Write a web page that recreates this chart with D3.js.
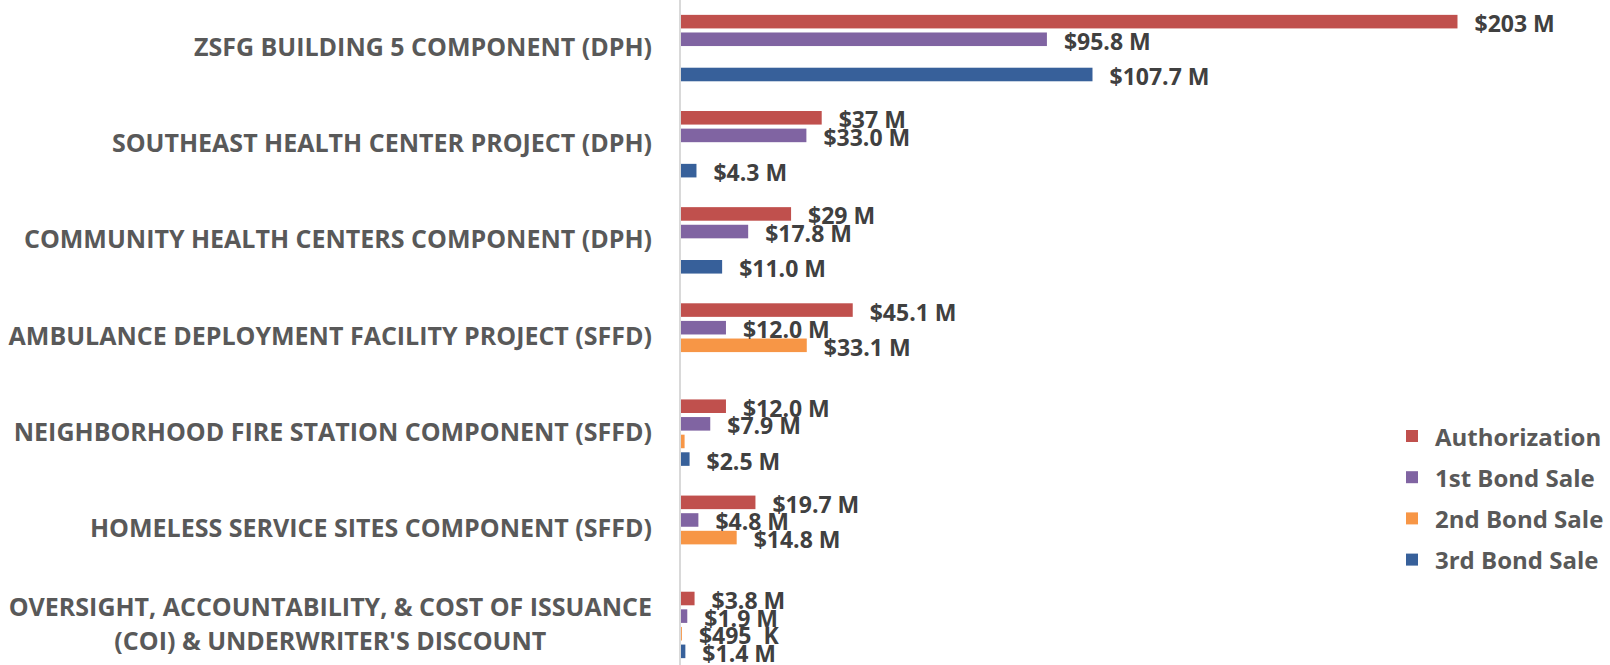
<!DOCTYPE html>
<html>
<head>
<meta charset="utf-8">
<script src="https://cdn.jsdelivr.net/npm/d3@7"></script>
<style>
  html, body { margin: 0; padding: 0; background: #fff; }
  svg text { font-family: "Open Sans", Calibri, sans-serif; font-weight: bold; }
</style>
</head>
<body>
<div id="chart"></div>
<script>
// categories, top to bottom
const categories = [
  "ZSFG BUILDING 5 COMPONENT (DPH)",
  "SOUTHEAST HEALTH CENTER PROJECT (DPH)",
  "COMMUNITY HEALTH CENTERS COMPONENT (DPH)",
  "AMBULANCE DEPLOYMENT FACILITY PROJECT (SFFD)",
  "NEIGHBORHOOD FIRE STATION COMPONENT (SFFD)",
  "HOMELESS SERVICE SITES COMPONENT (SFFD)",
  "OVERSIGHT, ACCOUNTABILITY, & COST OF ISSUANCE\n(COI) & UNDERWRITER'S DISCOUNT"
];
const seriesNames = ["Authorization", "1st Bond Sale", "2nd Bond Sale", "3rd Bond Sale"];

// values in $ millions
const authorization = [203, 37, 29, 45.1, 12.0, 19.7, 3.8];
const bondSale1 = [95.8, 33.0, 17.8, 12.0, 7.9, 4.8, 1.9];
const bondSale2 = [null, null, null, 33.1, 1.2, 14.8, 0.495];
const bondSale3 = [107.7, 4.3, 11.0, null, 2.5, null, 1.4];

// data label texts
const authorizationLabels = ["$203 M", "$37 M", "$29 M", "$45.1 M", "$12.0 M", "$19.7 M", "$3.8 M"];
const bondSale1Labels = ["$95.8 M", "$33.0 M", "$17.8 M", "$12.0 M", "$7.9 M", "$4.8 M", "$1.9 M"];
const bondSale2Labels = [null, null, null, "$33.1 M", null, "$14.8 M", "$495  K"];
const bondSale3Labels = ["$107.7 M", "$4.3 M", "$11.0 M", null, "$2.5 M", null, "$1.4 M"];

const colors = ["#C0504D", "#8064A2", "#F79646", "#37609A"];

const width = 1610, height = 665;
const axisX = 680;

const values = [authorization, bondSale1, bondSale2, bondSale3];
const labels = [authorizationLabels, bondSale1Labels, bondSale2Labels, bondSale3Labels];

const rows = [];
categories.forEach((c, i) => {
  seriesNames.forEach((s, j) => {
    rows.push({cat: c, series: s, idx: j, value: values[j][i], label: labels[j][i]});
  });
});

const svg = d3.select("#chart").append("svg")
    .attr("width", width)
    .attr("height", height);

// scales
const x = d3.scaleLinear()
    .domain([0, 220])
    .range([axisX, axisX + 220 * 3.83]);

const y0 = d3.scaleBand()
    .domain(categories)
    .range([0, 673])
    .paddingInner(0.267)
    .paddingOuter(0.1335);

const y1 = d3.scaleBand()
    .domain(seriesNames)
    .range([0, y0.bandwidth()])
    .paddingInner(0.23)
    .paddingOuter(0.115);

// bars
svg.selectAll(".bar")
   .data(rows.filter(d => d.value != null))
   .enter().append("rect")
   .attr("class", "bar")
   .attr("x", x(0))
   .attr("y", d => y0(d.cat) + y1(d.series))
   .attr("width", d => x(d.value) - x(0))
   .attr("height", y1.bandwidth())
   .attr("fill", d => colors[d.idx]);

// data labels
svg.selectAll(".dlabel")
   .data(rows.filter(d => d.label != null))
   .enter().append("text")
   .attr("class", "dlabel")
   .attr("x", d => x(d.value || 0) + 17)
   .attr("y", d => y0(d.cat) + y1(d.series) + y1.bandwidth() / 2 + 1.5)
   .attr("dominant-baseline", "central")
   .style("font-size", "23px")
   .style("fill", "#404040")
   .style("white-space", "pre")
   .text(d => d.label);

// vertical axis line
svg.append("line")
   .attr("x1", axisX).attr("x2", axisX)
   .attr("y1", 0).attr("y2", height)
   .attr("stroke", "#D9D9D9")
   .attr("stroke-width", 2);

// category labels
const catG = svg.selectAll(".cat")
   .data(categories)
   .enter().append("text")
   .attr("class", "cat")
   .style("font-size", "25px")
   .style("fill", "#595959");

catG.each(function(c) {
  const t = d3.select(this);
  const lines = c.split("\n");
  const lh = 34;
  const cy = y0(c) + y0.bandwidth() / 2 - 2;
  lines.forEach((ln, k) => {
    t.append("tspan")
     .attr("y", cy + (k - (lines.length - 1) / 2) * lh)
     .attr("dominant-baseline", "central")
     .text(ln);
  });
  // right-align the block, center lines within it
  const tsp = t.selectAll("tspan").nodes();
  const maxW = d3.max(tsp, n => n.getComputedTextLength());
  const rightEdge = axisX - 28;
  t.attr("text-anchor", "middle");
  t.selectAll("tspan").attr("x", rightEdge - maxW / 2);
});

// legend
const legend = svg.append("g")
   .attr("transform", "translate(1406, 430)");

const li = legend.selectAll(".leg")
   .data(seriesNames)
   .enter().append("g")
   .attr("transform", (d, i) => `translate(0, ${i * 41.2})`);

li.append("rect")
  .attr("width", 12).attr("height", 12)
  .attr("fill", (d, i) => colors[i]);

li.append("text")
  .attr("x", 29)
  .attr("y", 6)
  .attr("dominant-baseline", "central")
  .style("font-size", "24px")
  .style("fill", "#595959")
  .text(d => d);
</script>
</body>
</html>
